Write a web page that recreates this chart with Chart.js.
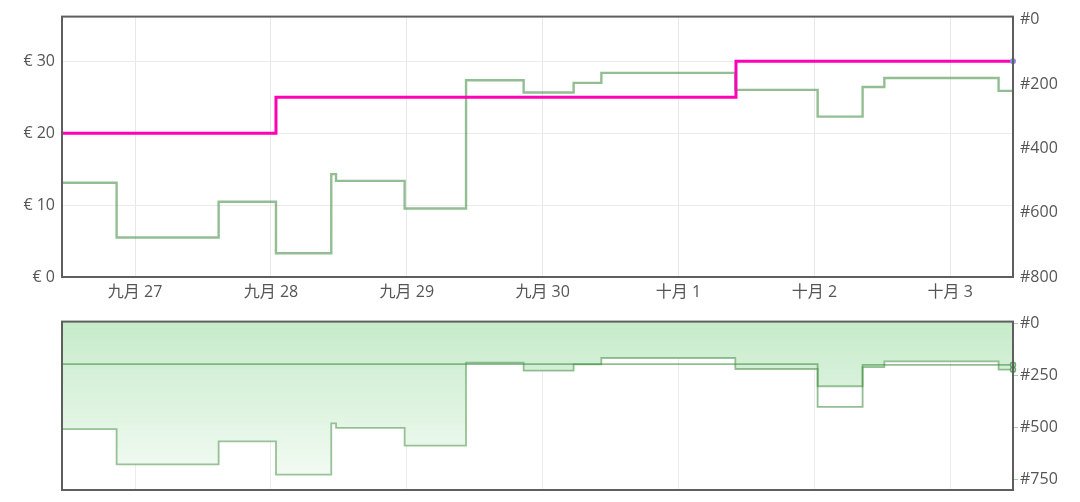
<!DOCTYPE html>
<html><head><meta charset="utf-8">
<script src="https://cdn.jsdelivr.net/npm/chart.js@4.4.1/dist/chart.umd.min.js"></script>
<style>
html,body{margin:0;padding:0;background:#fff;overflow:hidden;}
#c1{position:absolute;left:0;top:0;}
#c2{position:absolute;left:0;top:310px;}
</style></head><body>
<canvas id="c1" width="1080" height="310"></canvas>
<canvas id="c2" width="1080" height="192"></canvas>
<script>
// ---- data ----
const dayTicks  = [27, 28, 29, 30, 31, 32, 33];
const dayLabels = ['九月 27', '九月 28', '九月 29', '九月 30', '十月 1', '十月 2', '十月 3'];
const xMin = 26.462, xMax = 33.462;

const rankTimes  = [26.462, 26.864, 27.615, 28.037, 28.444, 28.479, 28.984, 29.436, 29.860, 30.228, 30.432, 31.418, 32.024, 32.355, 32.515, 33.356, 33.462];
const rankValues = [507,    677,    566,    726,    480,    501,    587,    188,    226,    196,    165,    218,    301,    209,    181,    221,    221];

const priceTimes  = [26.462, 28.037, 31.423, 33.462];
const priceValues = [20,     25,     30,     30];

const rank2Times  = [26.462, 32.024, 32.355, 33.462];
const rank2Values = [195,    400,    198,    198];

const priceTicks      = [0, 10, 20, 30];
const rankTicksTop    = [0, 200, 400, 600, 800];
const rankTicksBottom = [0, 250, 500, 750];

// ---- helpers ----
const FONT = {family: "'Open Sans', 'Noto Sans CJK SC', sans-serif", size: 16};
const TXT = '#555555';
const pts = (xs, ys) => xs.map((x, i) => ({x, y: ys[i]}));
const setTicks = arr => (s => { s.ticks = arr.map(v => ({value: v})); });

const frame = {
  id: 'frame',
  afterDatasetsDraw(chart) {
    const a = chart.chartArea, c = chart.ctx;
    c.save();
    c.strokeStyle = '#5e5e5e';
    c.lineWidth = 2;
    c.strokeRect(a.left, a.top, a.right - a.left, a.bottom - a.top);
    c.restore();
  }
};

// ---- top chart ----
new Chart(document.getElementById('c1'), {
  type: 'line',
  data: {
    datasets: [
      {
        data: pts(priceTimes, priceValues), yAxisID: 'yP',
        borderColor: '#ff00b4', borderWidth: 3, stepped: true,
        pointRadius: ctx => ctx.dataIndex === priceValues.length - 1 ? 3 : 0,
        pointBackgroundColor: '#8c8ce8', pointBorderColor: '#8c8ce8', pointBorderWidth: 0,
        clip: 5, order: 0
      },
      {
        data: pts(rankTimes, rankValues), yAxisID: 'yR',
        borderColor: 'rgba(58,136,58,0.55)', borderWidth: 2.4, stepped: true,
        pointRadius: 0, order: 1
      }
    ]
  },
  options: {
    responsive: false, animation: false, devicePixelRatio: 1,
    layout: {padding: {top: 14, left: 0, right: 0, bottom: 0}},
    plugins: {legend: {display: false}, tooltip: {enabled: false}},
    scales: {
      x: {
        type: 'linear', min: xMin, max: xMax,
        afterBuildTicks: setTicks(dayTicks),
        afterFit: s => { s.height = 33; },
        ticks: {callback: v => dayLabels[dayTicks.indexOf(v)], font: FONT, color: TXT, padding: 6, maxRotation: 0, autoSkip: false},
        grid: {color: '#e8e8e8', drawTicks: false},
        border: {display: false}
      },
      yP: {
        position: 'left', min: 0, max: 36.2,
        afterBuildTicks: setTicks(priceTicks),
        afterFit: s => { s.width = 62; },
        ticks: {callback: v => '€ ' + v, font: FONT, color: TXT, padding: 7},
        grid: {color: '#ececec', drawTicks: false},
        border: {display: false}
      },
      yR: {
        position: 'right', reverse: true, min: -10, max: 800,
        afterBuildTicks: setTicks(rankTicksTop),
        afterFit: s => { s.width = 67; },
        ticks: {callback: v => '#' + v, font: FONT, color: TXT, padding: 7},
        grid: {display: false, drawTicks: false},
        border: {display: false}
      }
    }
  },
  plugins: [frame]
});

// ---- bottom chart ----
new Chart(document.getElementById('c2'), {
  type: 'line',
  data: {
    datasets: [
      {
        data: pts(rank2Times, rank2Values), yAxisID: 'yR',
        borderColor: 'rgba(58,136,58,0.55)', borderWidth: 1.8, stepped: true,
        pointRadius: ctx => ctx.dataIndex === rank2Values.length - 1 ? 2.5 : 0,
        pointBackgroundColor: '#cdeccf', pointBorderColor: 'rgba(58,136,58,0.7)', pointBorderWidth: 1.5,
        fill: false, clip: 5, order: 0
      },
      {
        data: pts(rankTimes, rankValues), yAxisID: 'yR',
        borderColor: 'rgba(58,136,58,0.5)', borderWidth: 1.8, stepped: true,
        pointRadius: ctx => ctx.dataIndex === rankValues.length - 1 ? 2.5 : 0,
        pointBackgroundColor: '#cdeccf', pointBorderColor: 'rgba(58,136,58,0.7)', pointBorderWidth: 1.5,
        fill: 'end', clip: 5, order: 1,
        backgroundColor: ctx => {
          const a = ctx.chart.chartArea;
          if (!a) return 'rgba(200,236,204,1)';
          const g = ctx.chart.ctx.createLinearGradient(0, a.top, 0, a.bottom);
          g.addColorStop(0, 'rgba(198,235,202,1)');
          g.addColorStop(1, 'rgba(246,252,246,1)');
          return g;
        }
      }
    ]
  },
  options: {
    responsive: false, animation: false, devicePixelRatio: 1,
    layout: {padding: {top: 10, left: 62, right: 0, bottom: 0}},
    plugins: {legend: {display: false}, tooltip: {enabled: false}},
    scales: {
      x: {
        type: 'linear', min: xMin, max: xMax,
        afterBuildTicks: setTicks(dayTicks),
        afterFit: s => { s.height = 12; },
        ticks: {display: false},
        grid: {color: '#ececec', drawTicks: false},
        border: {display: false}
      },
      yR: {
        position: 'right', reverse: true, min: -10, max: 800,
        afterBuildTicks: setTicks(rankTicksBottom),
        afterFit: s => { s.width = 67; },
        ticks: {callback: v => '#' + v, font: FONT, color: TXT, padding: 2},
        grid: {drawOnChartArea: false, drawTicks: true, tickLength: 5, tickColor: 'rgba(120,190,120,0.7)'},
        border: {display: false}
      }
    }
  },
  plugins: [frame]
});
</script>
</body></html>
